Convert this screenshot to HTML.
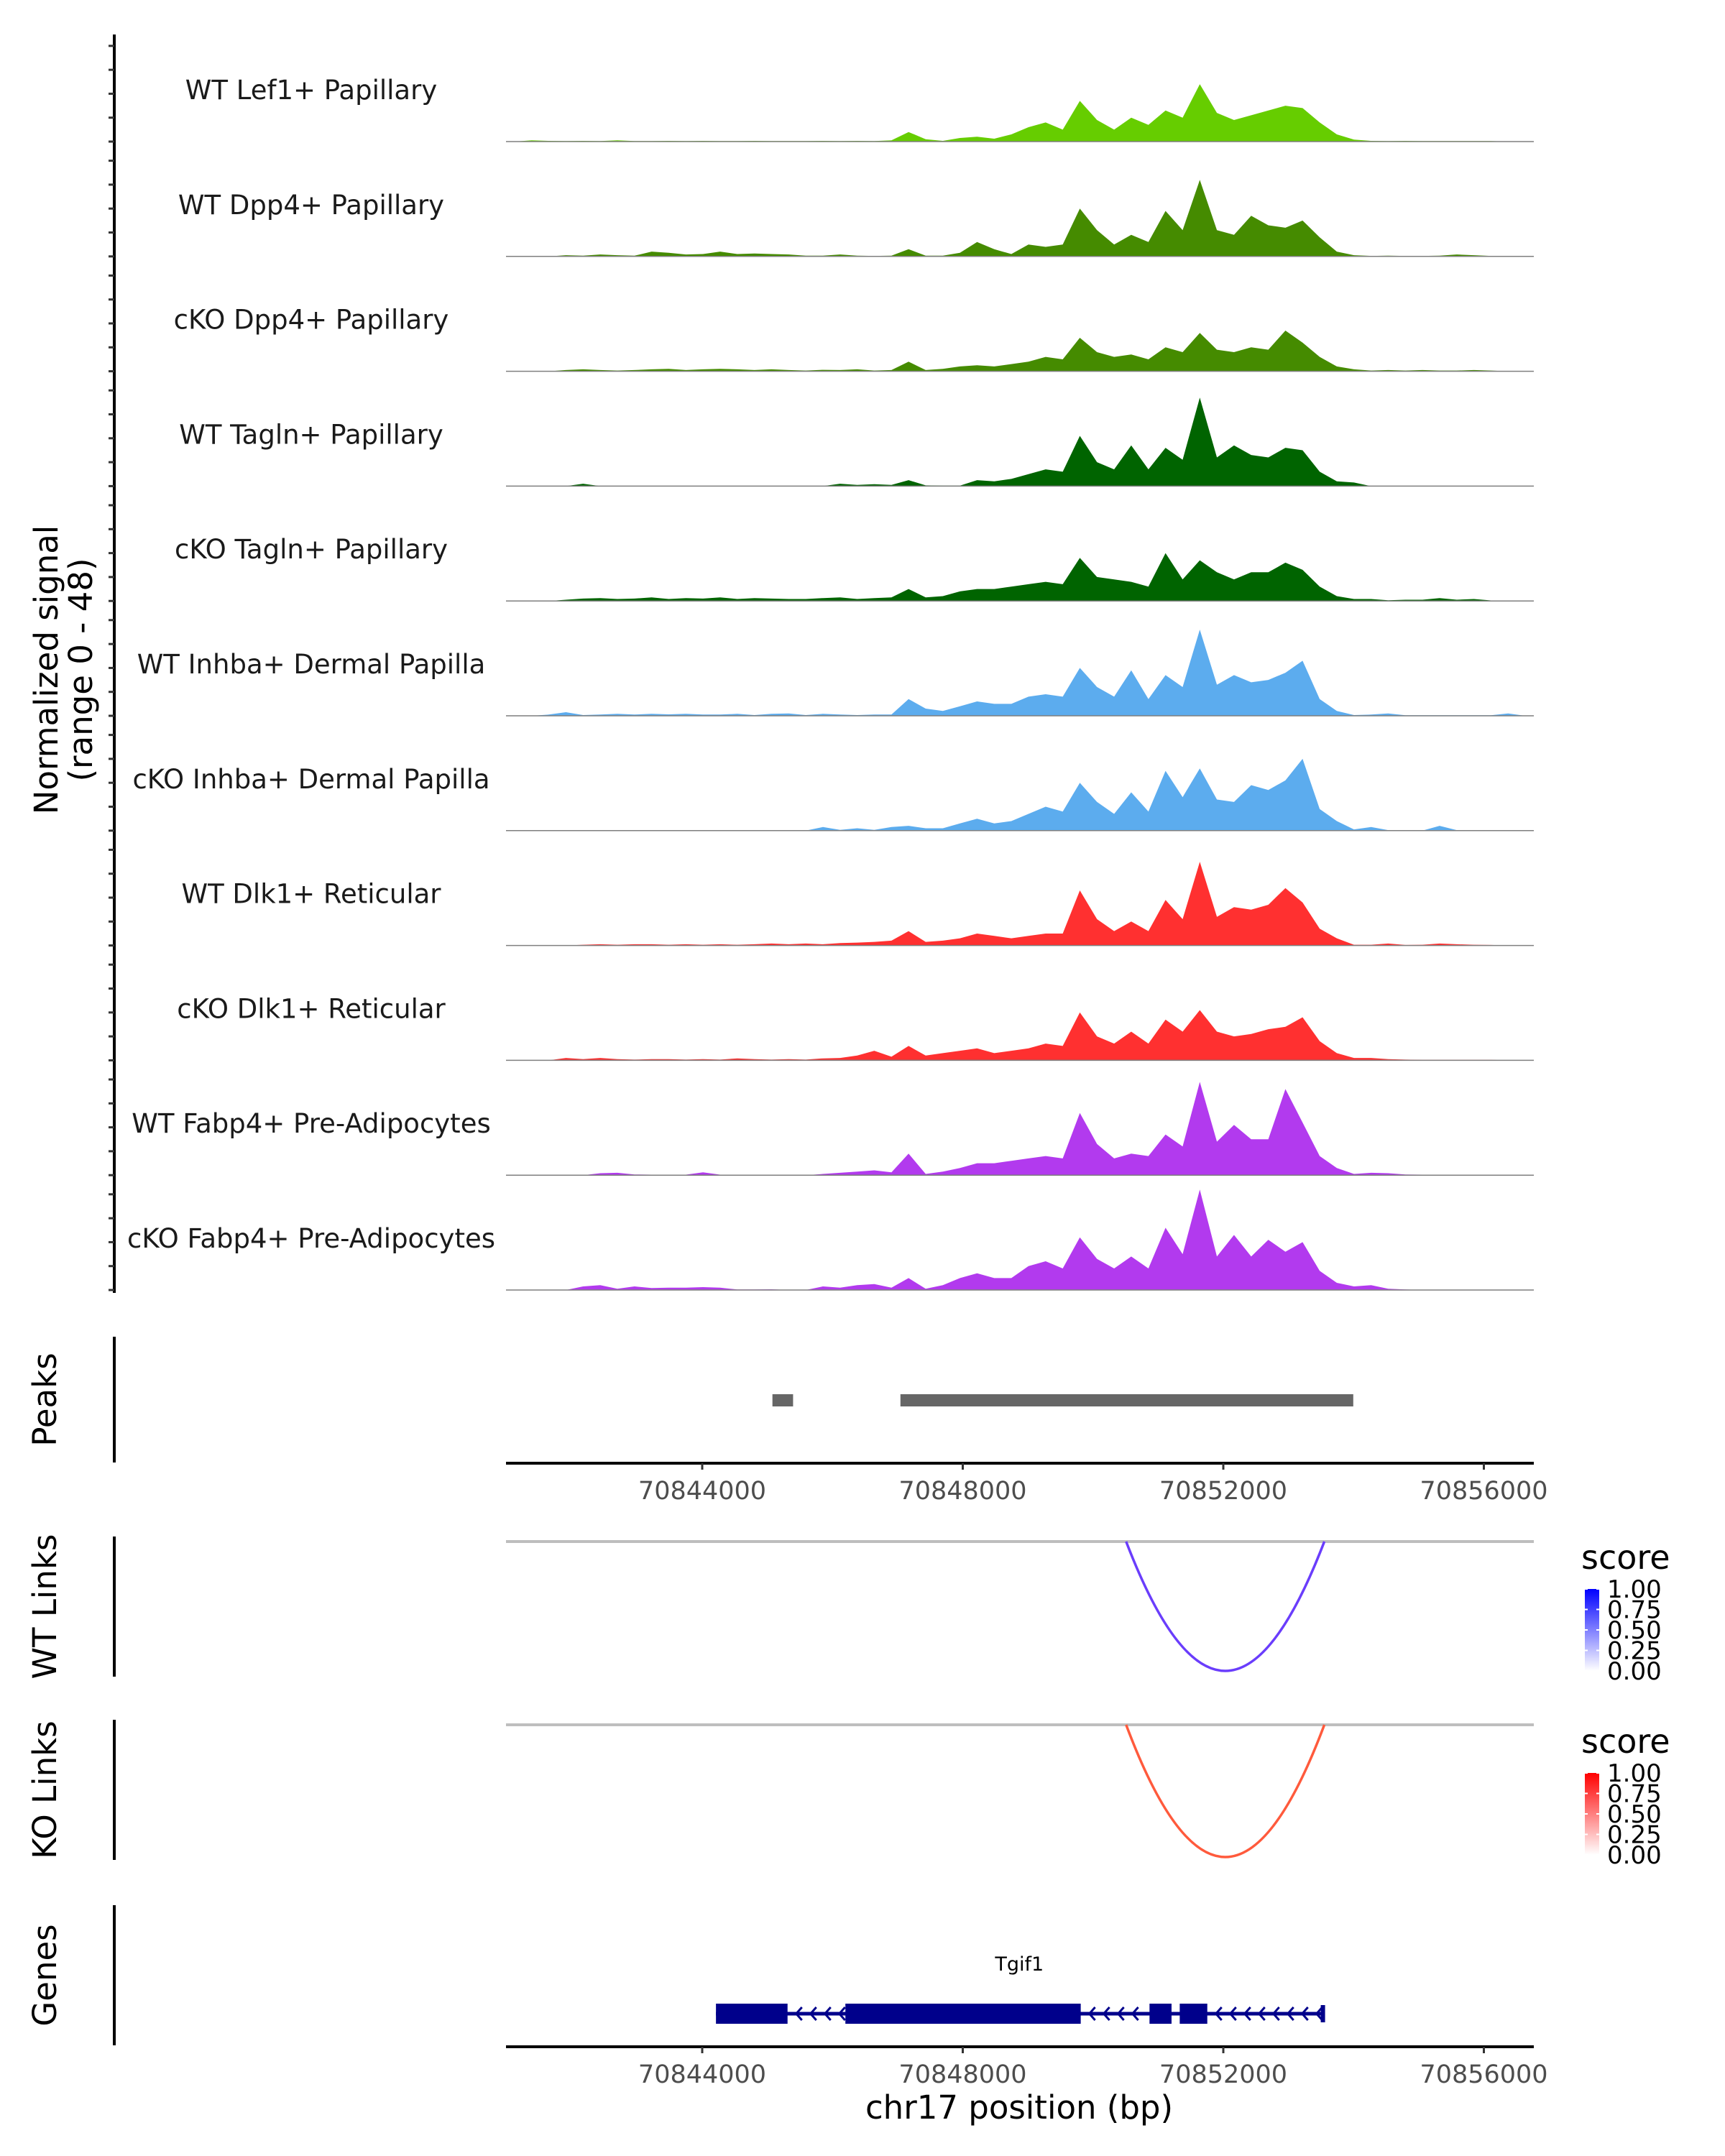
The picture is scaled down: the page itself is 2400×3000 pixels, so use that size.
<!DOCTYPE html>
<html><head><meta charset="utf-8">
<style>
html,body{margin:0;padding:0;background:#fff;}
svg{display:block;font-family:"DejaVu Sans","Liberation Sans",sans-serif;}
</style></head>
<body>
<svg id="chart" width="2400" height="3000" viewBox="0 0 2400 3000" xmlns="http://www.w3.org/2000/svg">
<defs>
<linearGradient id="gBlue" x1="0" y1="1" x2="0" y2="0"><stop offset="0" stop-color="#ffffff"/><stop offset="1" stop-color="#0000ff"/></linearGradient>
<linearGradient id="gRed" x1="0" y1="1" x2="0" y2="0"><stop offset="0" stop-color="#ffffff"/><stop offset="1" stop-color="#ff0000"/></linearGradient>
</defs>
<g id="layer"></g>
</svg>
<script>
const trackNames = ["WT Lef1+ Papillary","WT Dpp4+ Papillary","cKO Dpp4+ Papillary","WT Tagln+ Papillary","cKO Tagln+ Papillary","WT Inhba+ Dermal Papilla","cKO Inhba+ Dermal Papilla","WT Dlk1+ Reticular","cKO Dlk1+ Reticular","WT Fabp4+ Pre-Adipocytes","cKO Fabp4+ Pre-Adipocytes"];
const trackColors = ["#66cd00","#458b00","#458b00","#006400","#006400","#5cacee","#5cacee","#ff3030","#ff3030","#b23aee","#b23aee"];
const sigLef1 = [0,0.5,0.3,0.2,0.3,0.2,0.5,0.2,0.2,0.3,0.2,0.3,0.2,0.2,0.3,0.2,0.2,0.2,0.3,0.2,0.3,0.2,0.5,4,1,0.3,1.5,2,1.2,3,6,8,5,17,9,5,10,7,13,10,24,12,9,11,13,15,14,8,3,0.8,0.3,0.2,0.3,0.2,0.2,0.2,0.2,0.2,0,0];
const sigWtDpp4 = [0,0,0,0.5,0.3,0.8,0.5,0.3,2,1.5,0.8,1,2,1,1.2,1,0.8,0.3,0.3,0.8,0.3,0.2,0.3,3,0.3,0.3,1.5,6,3,1,5,4,5,20,11,5,9,6,19,11,32,11,9,17,13,12,15,8,2,0.5,0.2,0.3,0.2,0.2,0.3,0.8,0.5,0.2,0,0];
const sigKoDpp4 = [0,0,0,0.5,0.8,0.5,0.3,0.5,0.8,1,0.5,0.8,1,0.8,0.5,0.8,0.5,0.3,0.6,0.5,0.8,0.3,0.5,4,0.5,1,2,2.5,2,3,4,6,5,14,8,6,7,5,10,8,16,9,8,10,9,17,12,6,2,0.8,0.3,0.5,0.3,0.5,0.3,0.3,0.5,0.3,0,0];
const sigWtTagln = [0,0,0,0,1,0,0,0,0,0,0,0,0,0,0,0,0,0,0,1,0.5,0.8,0.5,2.5,0.3,0.2,0.2,2.5,2,3,5,7,6,21,10,7,17,7,16,11,37,12,17,13,12,16,15,6,2,1.5,0,0,0,0,0,0,0,0,0,0];
const sigKoTagln = [0,0,0,0.5,1,1.2,0.8,1,1.5,0.8,1.2,1,1.5,0.8,1.2,1,0.8,0.8,1.2,1.5,0.8,1.2,1.5,5,1.5,2,4,5,5,6,7,8,7,18,10,9,8,6,20,9,17,12,9,12,12,16,13,6,2,0.8,0.8,0.3,0.5,0.5,1.2,0.5,0.8,0.2,0,0];
const sigWtInhba = [0,0,0.5,1.5,0.3,0.5,0.8,0.5,0.8,0.6,0.8,0.5,0.5,0.8,0.3,0.8,1,0.3,0.8,0.5,0.3,0.5,0.5,7,3,2,4,6,5,5,8,9,8,20,12,8,19,7,17,12,36,13,17,14,15,18,23,7,2,0.3,0.5,1,0.2,0.2,0.2,0.2,0.2,0.2,1,0];
const sigKoInhba = [0,0,0,0,0,0,0,0,0,0,0,0,0,0,0,0,0,0,1.5,0.3,1,0.3,1.5,2,1,1,3,5,3,4,7,10,8,20,12,7,16,8,25,14,26,13,12,19,17,21,30,9,4,0.5,1.5,0.2,0.2,0,2,0.2,0,0,0,0];
const sigWtDlk1 = [0,0,0,0,0.3,0.5,0.3,0.5,0.5,0.3,0.5,0.3,0.5,0.3,0.5,0.8,0.5,0.8,0.5,1,1.2,1.5,2,6,1.5,2,3,5,4,3,4,5,5,23,11,6,10,6,19,11,35,12,16,15,17,24,18,7,3,0.3,0.3,0.8,0.2,0.3,0.8,0.5,0.3,0.2,0,0];
const sigKoDlk1 = [0,0,0,1,0.5,1,0.5,0.3,0.5,0.5,0.3,0.5,0.3,0.8,0.5,0.3,0.5,0.3,0.8,1,2,4,1.5,6,2,3,4,5,3,4,5,7,6,20,10,7,12,7,17,12,21,12,10,11,13,14,18,8,3,1,1,0.5,0.3,0.2,0.2,0.2,0.2,0.2,0,0];
const sigWtFabp4 = [0,0,0,0,0,0.8,1,0.3,0.2,0.2,0.2,1.2,0.2,0.2,0.2,0,0,0,0.5,1,1.5,2,1.2,9,0.5,1.5,3,5,5,6,7,8,7,26,13,7,9,8,17,12,39,14,21,15,15,36,22,8,3,0.5,1,0.8,0.3,0.2,0.2,0,0,0,0,0];
const sigKoFabp4 = [0,0,0,0,1.5,2,0.5,1.5,0.8,1,1,1.2,1,0.2,0.2,0.3,0,0,1.5,1,2,2.5,1,5,0.5,2,5,7,5,5,10,12,9,22,13,9,14,9,26,15,42,14,23,14,21,16,20,8,3,1.5,2,0.5,0.2,0,0,0,0,0,0,0];
const signals = [sigLef1,sigWtDpp4,sigKoDpp4,sigWtTagln,sigKoTagln,sigWtInhba,sigKoInhba,sigWtDlk1,sigKoDlk1,sigWtFabp4,sigKoFabp4];
const signalMax = 48;
const signalTicks = [0,10,20,30,40];
const xTicks = [70844000,70848000,70852000,70856000];
const peakStarts = [70845078,70847043];
const peakEnds = [70845395,70853995];
const linkStart = [70850508];
const linkEnd = [70853551];
const linkScore = [0.8];
const exonStarts = [70844211,70846198,70850867,70851331];
const exonEnds = [70845310,70849811,70851205,70851754];
const geneStart = 70844211, geneEnd = 70853529;
const geneName = "Tgif1";
const legendLabels = ["1.00","0.75","0.50","0.25","0.00"];

const NS="http://www.w3.org/2000/svg";
const layer=document.getElementById('layer');
function el(tag,attrs,parent){const e=document.createElementNS(NS,tag);for(const k in attrs)e.setAttribute(k,attrs[k]);(parent||layer).appendChild(e);return e;}
const X0=704, X1=2134;
function xBp(bp){return 977+(bp-70844000)/4000*362.5;}
const nb=sigLef1.length;
function xBin(i){return X0+(i+0.5)*(X1-X0)/nb;}
const base0=197, step=159.8, trackH=159.8;
function ySig(v,b){return b - v/signalMax*trackH;}

let ax=el('line',{x1:159,y1:48,x2:159,y2:1799,stroke:'#000','stroke-width':4});


for(let t=0;t<trackNames.length;t++){
  const b=base0+t*step;
  for(const v of signalTicks){
    const tk=el('line',{x1:151,y1:ySig(v,b),x2:159,y2:ySig(v,b),stroke:'#333','stroke-width':3});
    
    
  }
  const g=el('g',{});
  
  
  const s=signals[t];
  let d='M'+X0+' '+b;
  for(let i=0;i<s.length;i++){d+=' L'+xBin(i).toFixed(1)+' '+ySig(s[i],b).toFixed(1);}
  d+=' L'+X1+' '+b+' Z';
  const p=el('path',{d:d,fill:trackColors[t]},g);
  
  
  const bl=el('line',{x1:X0,y1:b,x2:X1,y2:b,stroke:'#7f7f7f','stroke-width':1.5},g);
  
  
  const lb=el('text',{x:433,y:b-59,'font-size':37,fill:'#1a1a1a','text-anchor':'middle'},g);
  lb.textContent=trackNames[t];
  
  
}
let yt=el('text',{transform:'translate(80,932) rotate(-90)','font-size':45,'text-anchor':'middle',fill:'#000'});
yt.innerHTML='<tspan x="0" dy="0">Normalized signal</tspan><tspan x="0" dy="48">(range 0 - 48)</tspan>';



function sideAxis(y1,y2,label,name){
  const l=el('line',{x1:159,y1:y1,x2:159,y2:y2,stroke:'#000','stroke-width':4});
  
  
  const t=el('text',{transform:'translate(66,'+((y1+y2)/2)+') rotate(-90)','font-size':45,'text-anchor':'middle','dominant-baseline':'middle',fill:'#000'});
  t.textContent=label;
  
  
}
function xAxis(y,name){
  const l=el('line',{x1:X0,y1:y,x2:X1,y2:y,stroke:'#000','stroke-width':4});
  
  
  for(const v of xTicks){
    const tk=el('line',{x1:xBp(v),y1:y,x2:xBp(v),y2:y+9,stroke:'#333','stroke-width':3});
    
    
    const tl=el('text',{x:xBp(v),y:y+50,'font-size':35,fill:'#4d4d4d','text-anchor':'middle'});
    tl.textContent=v;
    
    
  }
}
sideAxis(1860,2035,'Peaks','peaks');
for(let i=0;i<peakStarts.length;i++){
  const r=el('rect',{x:xBp(peakStarts[i]),y:1940,width:xBp(peakEnds[i])-xBp(peakStarts[i]),height:17,fill:'#666'});
  
  
}
xAxis(2036,'peaks-x-axis');

function linkPanel(base,bottom,color,grad,label,name,legY){
  sideAxis(base-7,base+188,label,name);
  const gl=el('line',{x1:X0,y1:base,x2:X1,y2:base,stroke:'#bebebe','stroke-width':4});
  
  
  for(let i=0;i<linkStart.length;i++){
    const a=xBp(linkStart[i]), b=xBp(linkEnd[i]);
    const depth=bottom-base;
    const p=el('path',{d:'M'+a+' '+base+' Q'+((a+b)/2)+' '+(base+2*depth)+' '+b+' '+base,fill:'none',stroke:color,'stroke-width':3.5});
    
    
  }
  const lg=el('g',{});
  
  
  const st=el('text',{x:2200,y:legY,'font-size':46,fill:'#000'},lg);st.textContent='score';
  const by=legY+28;
  el('rect',{x:2205,y:by,width:20,height:114,fill:'url(#'+grad+')'},lg);
  for(let i=0;i<legendLabels.length;i++){
    const ty=by+i*28.5;
    el('line',{x1:2205,y1:ty,x2:2209,y2:ty,stroke:'#fff','stroke-width':2},lg);
    el('line',{x1:2221,y1:ty,x2:2225,y2:ty,stroke:'#fff','stroke-width':2},lg);
    const t=el('text',{x:2236,y:ty+12,'font-size':34,fill:'#000'},lg);t.textContent=legendLabels[i];
  }
}
linkPanel(2145,2325,'#6a3dfc','gBlue','WT Links','wt-links',2183);
linkPanel(2400,2584,'#ff5a3c','gRed','KO Links','ko-links',2439);

sideAxis(2651,2846,'Genes','genes');
const gg=el('g',{});


const gy=2802;
el('line',{x1:xBp(geneStart),y1:gy,x2:xBp(geneEnd),y2:gy,stroke:'#00008b','stroke-width':5},gg);
el('line',{x1:xBp(geneEnd),y1:gy-12,x2:xBp(geneEnd),y2:gy+12,stroke:'#00008b','stroke-width':6},gg);
for(let i=0;i<exonStarts.length;i++){
  el('rect',{x:xBp(exonStarts[i]),y:gy-14,width:xBp(exonEnds[i])-xBp(exonStarts[i]),height:28,fill:'#00008b'},gg);
}
const intronS=[exonEnds[0],exonEnds[1],exonEnds[3]], intronE=[exonStarts[1],exonStarts[2],geneEnd];
for(let k=0;k<intronS.length;k++){
  const a=xBp(intronS[k])+12,b=xBp(intronE[k])-8;
  for(let x=a;x<b;x+=20){el('path',{d:'M'+(x+8)+' '+(gy-9)+' L'+x+' '+gy+' L'+(x+8)+' '+(gy+9),fill:'none',stroke:'#00008b','stroke-width':3},gg);}
}
const gn=el('text',{x:xBp((geneStart+geneEnd)/2),y:2742,'font-size':27,'text-anchor':'middle',fill:'#000'},gg);gn.textContent=geneName;
xAxis(2848,'genes-x-axis');
const xt=el('text',{x:1418,y:2948,'font-size':45,'text-anchor':'middle',fill:'#000'});
xt.textContent='chr17 position (bp)';


</script>
</body></html>
